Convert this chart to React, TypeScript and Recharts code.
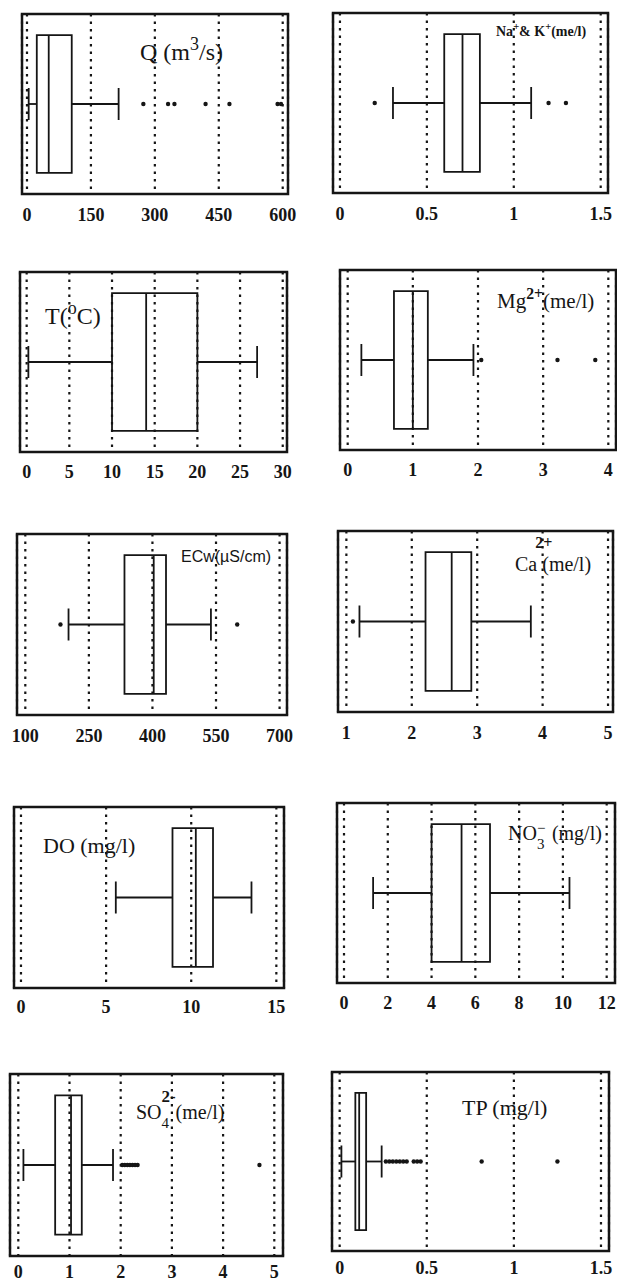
import React from 'react';
import {
  ComposedChart,
  XAxis,
  YAxis,
  CartesianGrid,
  ReferenceArea,
  ReferenceLine,
  Scatter,
} from 'recharts';

// Box-plot summaries read off the scanned figure, one entry per panel
const PANELS = ['Q', 'NaK', 'T', 'Mg', 'ECw', 'Ca', 'DO', 'NO3', 'SO4', 'TP'];
const WHISKER_LOW = [4, 0.305, 0.2, 0.21, 202, 1.2, 5.57, 1.33, 0.1, 0.01];
const Q1 = [23, 0.6, 10, 0.71, 334, 2.21, 8.9, 4.0, 0.72, 0.09];
const MEDIAN = [51, 0.705, 14, 1.0, 403, 2.61, 10.27, 5.37, 1.03, 0.112];
const Q3 = [105, 0.805, 20, 1.23, 432, 2.91, 11.28, 6.67, 1.24, 0.152];
const WHISKER_HIGH = [215, 1.1, 27, 1.93, 538, 3.82, 13.54, 10.3, 1.85, 0.241];
const OUTLIERS = [
  [273, 331, 346, 419, 475, 588, 596],
  [0.2, 1.2, 1.3],
  [],
  [2.05, 3.22, 3.8],
  [183, 600],
  [1.1],
  [],
  [],
  [2.03, 2.08, 2.13, 2.18, 2.23, 2.28, 2.33, 4.71],
  [0.265, 0.285, 0.305, 0.325, 0.345, 0.365, 0.385, 0.425, 0.445, 0.465, 0.815, 1.25],
];
const TICKS = [
  [0, 150, 300, 450, 600],
  [0, 0.5, 1, 1.5],
  [0, 5, 10, 15, 20, 25, 30],
  [0, 1, 2, 3, 4],
  [100, 250, 400, 550, 700],
  [1, 2, 3, 4, 5],
  [0, 5, 10, 15],
  [0, 2, 4, 6, 8, 10, 12],
  [0, 1, 2, 3, 4, 5],
  [0, 0.5, 1, 1.5],
];
const AXIS_MIN = [-11.7, -0.04, -0.78, -0.118, 80.4, 0.872, -0.41, -0.32, -0.162, -0.044];
const AXIS_MAX = [612.4, 1.542, 30.5, 4.118, 717.5, 5.076, 15.45, 12.38, 5.17, 1.546];

// where each framed plot sits on the page (px), plus the gap down to its tick labels
const FRAMES = [
  { x: 22, y: 14, w: 266, h: 180, gap: 8 },
  { x: 333, y: 13, w: 275, h: 180, gap: 8 },
  { x: 20, y: 272, w: 267, h: 180, gap: 7 },
  { x: 340, y: 270, w: 276, h: 180, gap: 7 },
  { x: 17, y: 534, w: 270, h: 181, gap: 8 },
  { x: 338, y: 531, w: 275, h: 181, gap: 8 },
  { x: 14, y: 807, w: 270, h: 181, gap: 6 },
  { x: 337, y: 803, w: 278, h: 180, gap: 7 },
  { x: 10, y: 1074, w: 273, h: 182, gap: 3 },
  { x: 332, y: 1072, w: 277, h: 179, gap: 4 },
];

const INK = '#151515';
const SERIF = "'Liberation Serif', 'Times New Roman', serif";
const PAD_X = 18;
const PAD_Y = 4;
const AXIS_H = 36;
const BOX_LO = 0.117;
const BOX_HI = 0.883;
const MID = 0.5;
const CAP_PX = 16;

function BoxPanel({ i }: { i: number }) {
  const f = FRAMES[i];
  const lo = AXIS_MIN[i];
  const hi = AXIS_MAX[i];
  const outliers = OUTLIERS[i].map((x) => ({ x, y: MID }));
  const whiskerEnds = [WHISKER_LOW[i], WHISKER_HIGH[i]].map((x) => ({ x, y: MID }));
  const seg = (x1: number, y1: number, x2: number, y2: number) => [
    { x: x1, y: y1 },
    { x: x2, y: y2 },
  ];

  return (
    <div style={{ position: 'absolute', left: f.x - PAD_X, top: f.y - PAD_Y }}>
      <ComposedChart
        width={f.w + 2 * PAD_X}
        height={f.h + PAD_Y + AXIS_H}
        margin={{ top: PAD_Y, right: PAD_X, bottom: 0, left: PAD_X }}
      >
        <CartesianGrid
          horizontal={false}
          stroke={INK}
          strokeWidth={2.2}
          strokeDasharray="2.5 5"
        />
        <XAxis
          type="number"
          dataKey="x"
          domain={[lo, hi]}
          ticks={TICKS[i]}
          interval={0}
          allowDataOverflow
          axisLine={false}
          tickLine={false}
          tickMargin={f.gap}
          height={AXIS_H}
          tick={{ fontSize: 18, fontWeight: 700, fontFamily: SERIF, fill: INK }}
        />
        <YAxis type="number" dataKey="y" domain={[0, 1]} hide />
        <ReferenceArea
          x1={lo}
          x2={hi}
          y1={0}
          y2={1}
          fill="none"
          fillOpacity={0}
          stroke={INK}
          strokeWidth={2.5}
        />
        <ReferenceArea
          x1={Q1[i]}
          x2={Q3[i]}
          y1={BOX_LO}
          y2={BOX_HI}
          fill="none"
          fillOpacity={0}
          stroke={INK}
          strokeWidth={1.8}
        />
        <ReferenceLine segment={seg(MEDIAN[i], BOX_LO, MEDIAN[i], BOX_HI)} stroke={INK} strokeWidth={1.8} />
        <ReferenceLine segment={seg(WHISKER_LOW[i], MID, Q1[i], MID)} stroke={INK} strokeWidth={1.8} />
        <ReferenceLine segment={seg(Q3[i], MID, WHISKER_HIGH[i], MID)} stroke={INK} strokeWidth={1.8} />
        {/* whisker caps */}
        <Scatter
          name={`${PANELS[i]}-caps`}
          data={whiskerEnds}
          isAnimationActive={false}
          shape={(p: any) => (
            <line x1={p.cx} x2={p.cx} y1={p.cy - CAP_PX} y2={p.cy + CAP_PX} stroke={INK} strokeWidth={1.8} />
          )}
        />
        {outliers.length > 0 && (
          <Scatter
            name={PANELS[i]}
            data={outliers}
            isAnimationActive={false}
            shape={(p: any) => <circle cx={p.cx} cy={p.cy} r={2.2} fill={INK} />}
          />
        )}
      </ComposedChart>
    </div>
  );
}

const sup = (txt: string, extra: React.CSSProperties = {}) => (
  <span style={{ fontSize: '0.75em', position: 'relative', top: '-0.55em', ...extra }}>{txt}</span>
);

function Title({
  left,
  top,
  size,
  children,
  style,
}: {
  left: number;
  top: number;
  size: number;
  children: React.ReactNode;
  style?: React.CSSProperties;
}) {
  return (
    <div
      style={{
        position: 'absolute',
        left,
        top,
        fontSize: size,
        lineHeight: 1,
        fontFamily: SERIF,
        color: INK,
        whiteSpace: 'nowrap',
        ...style,
      }}
    >
      {children}
    </div>
  );
}

export default function App() {
  return (
    <div
      style={{
        position: 'absolute',
        left: 0,
        top: 0,
        width: 617,
        height: 1283,
        overflow: 'hidden',
        background: '#fff',
      }}
    >
      {PANELS.map((p, i) => (
        <BoxPanel key={p} i={i} />
      ))}

      <Title left={140} top={40} size={24}>
        Q (m{sup('3')}/s)
      </Title>
      <Title left={496} top={25} size={14} style={{ fontWeight: 700 }}>
        Na{sup('+')}& K{sup('+')}(me/l)
      </Title>
      <Title left={45} top={304} size={24}>
        T({sup('o')}C)
      </Title>
      <Title left={497} top={291} size={21}>
        Mg{sup('2+', { fontWeight: 700 })}(me/l)
      </Title>
      <Title left={181} top={549} size={16} style={{ fontFamily: "'Liberation Sans', Arial, sans-serif" }}>
        ECw(µS/cm)
      </Title>
      <Title left={515} top={554} size={20}>
        Ca
        <span style={{ position: 'relative' }}>
          <span style={{ position: 'absolute', left: -2, top: -18, fontSize: 16, fontWeight: 700 }}>2+</span>
        </span>
        {' '}(me/l)
      </Title>
      <Title left={43} top={835} size={22}>
        DO (mg/l)
      </Title>
      <Title left={508} top={823} size={20}>
        NO
        <span style={{ display: 'inline-block', position: 'relative', width: 10 }}>
          <span style={{ position: 'absolute', left: 0, top: -19, fontSize: 15 }}>−</span>
          <span style={{ position: 'absolute', left: 0, top: -3, fontSize: 15 }}>3</span>
        </span>
        {' '}(mg/l)
      </Title>
      <Title left={136} top={1102} size={20}>
        SO
        <span style={{ display: 'inline-block', position: 'relative', width: 14 }}>
          <span style={{ position: 'absolute', left: 0, top: -31, fontSize: 17, fontWeight: 700 }}>2-</span>
          <span style={{ position: 'absolute', left: 0, top: -3, fontSize: 15 }}>4</span>
        </span>
        (me/l)
      </Title>
      <Title left={462} top={1097} size={22}>
        TP (mg/l)
      </Title>
    </div>
  );
}
